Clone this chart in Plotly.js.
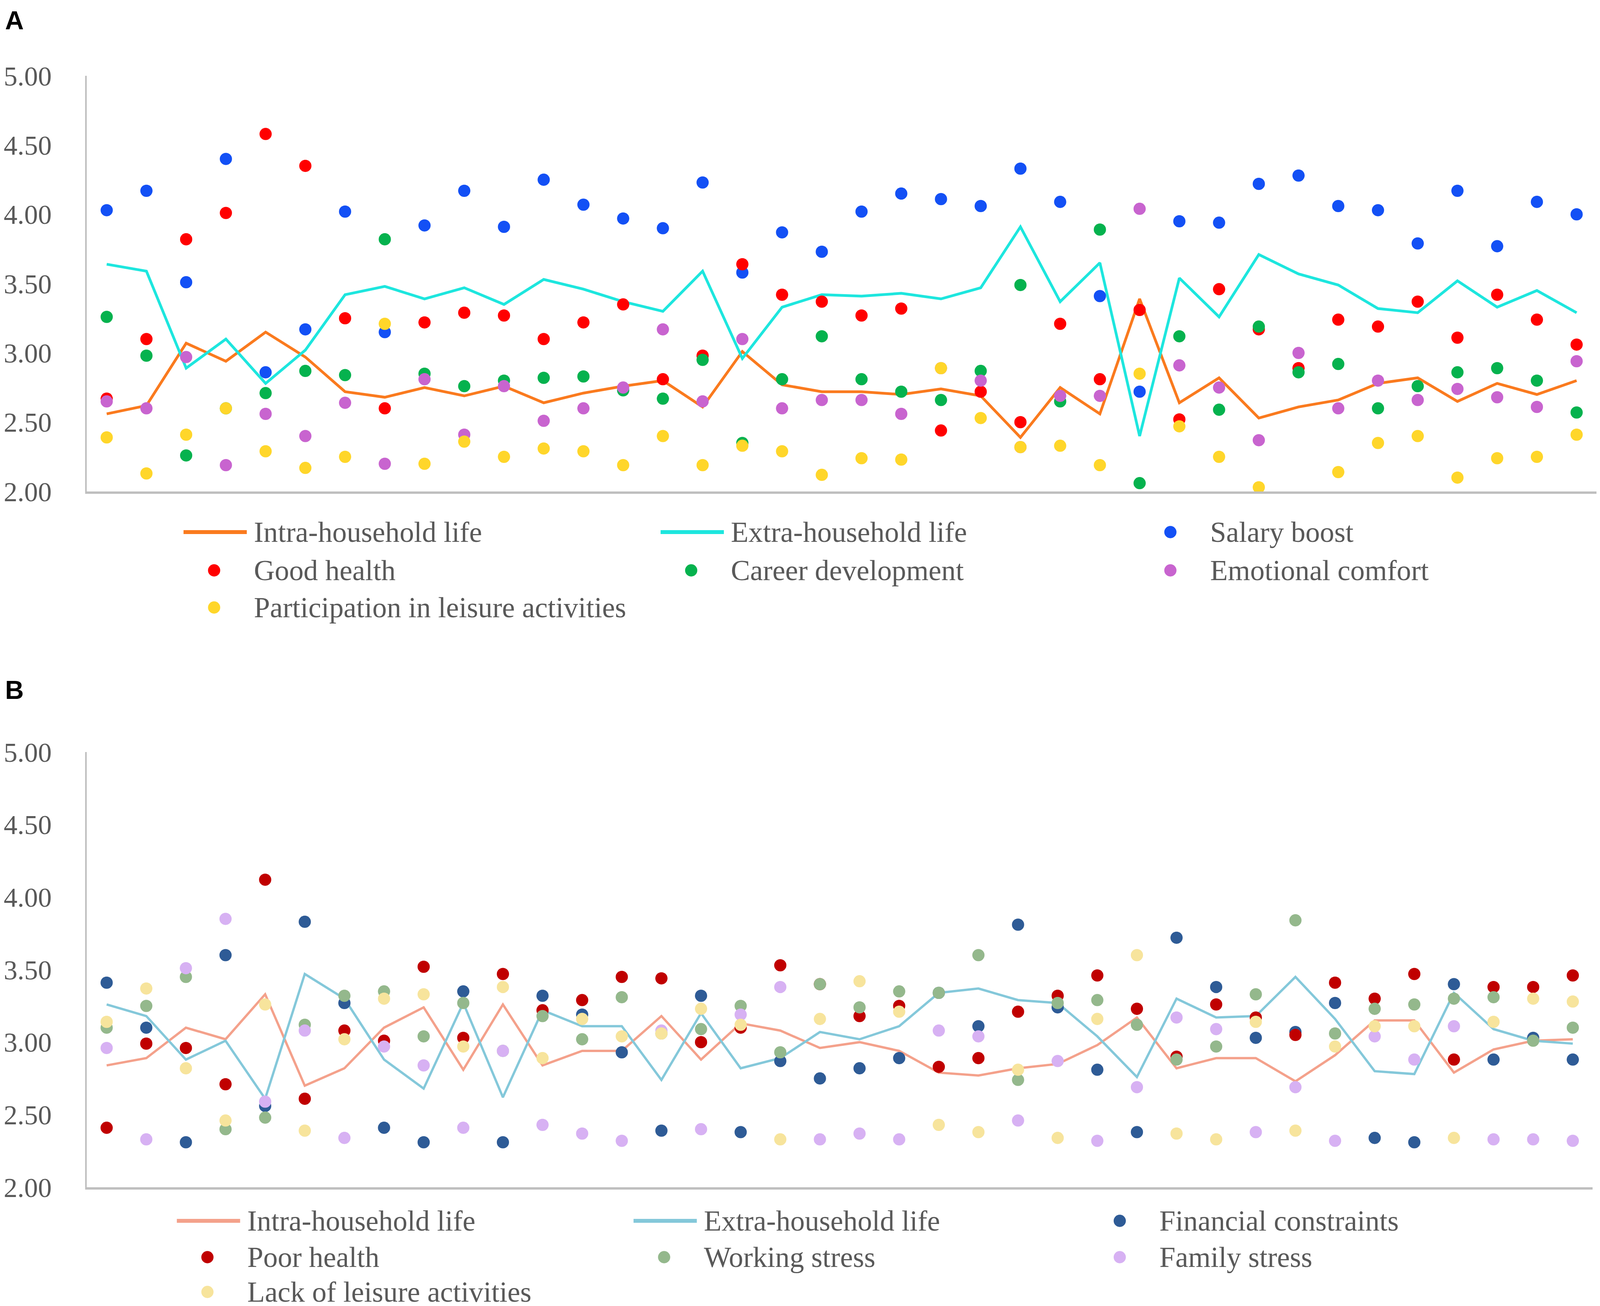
<!DOCTYPE html>
<html>
<head>
<meta charset="utf-8">
<script src="https://cdn.plot.ly/plotly-3.0.1.min.js"></script>
<style>html,body{margin:0;padding:0;background:#ffffff;overflow:hidden;}#chart{width:100vw;height:100vh;}</style>
</head>
<body>
<div id="chart"></div>
<script>
// ---------- DATA ----------
const cities = [1,2,3,4,5,6,7,8,9,10,11,12,13,14,15,16,17,18,19,20,21,22,23,24,25,26,27,28,29,30,31,32,33,34,35,36,37,38];

// Panel A
const namesA = ['Intra-household life','Extra-household life','Salary boost','Good health','Career development','Emotional comfort','Participation in leisure activities'];
const intraA = [2.56,2.62,3.07,2.94,3.15,2.97,2.72,2.68,2.75,2.69,2.76,2.64,2.71,2.76,2.80,2.61,3.01,2.77,2.72,2.72,2.70,2.74,2.69,2.39,2.75,2.56,3.39,2.64,2.82,2.53,2.61,2.66,2.78,2.82,2.65,2.78,2.70,2.80];
const extraA = [3.64,3.59,2.89,3.10,2.78,3.02,3.42,3.48,3.39,3.47,3.35,3.53,3.46,3.37,3.30,3.59,2.96,3.33,3.42,3.41,3.43,3.39,3.47,3.91,3.37,3.65,2.40,3.54,3.26,3.71,3.57,3.49,3.32,3.29,3.52,3.33,3.45,3.29];
const salaryA = [4.03,4.17,3.51,4.40,2.86,3.17,4.02,3.15,3.92,4.17,3.91,4.25,4.07,3.97,3.90,4.23,3.58,3.87,3.73,4.02,4.15,4.11,4.06,4.33,4.09,3.41,2.72,3.95,3.94,4.22,4.28,4.06,4.03,3.79,4.17,3.77,4.09,4.00];
const healthA = [2.67,3.10,3.82,4.01,4.58,4.35,3.25,2.60,3.22,3.29,3.27,3.10,3.22,3.35,2.81,2.98,3.64,3.42,3.37,3.27,3.32,2.44,2.72,2.50,3.21,2.81,3.31,2.52,3.46,3.17,2.89,3.24,3.19,3.37,3.11,3.42,3.24,3.06];
const careerA = [3.26,2.98,2.26,2.60,2.71,2.87,2.84,3.82,2.85,2.76,2.80,2.82,2.83,2.73,2.67,2.95,2.35,2.81,3.12,2.81,2.72,2.66,2.87,3.49,2.65,3.89,2.06,3.12,2.59,3.19,2.86,2.92,2.60,2.76,2.86,2.89,2.80,2.57];
const emotionalA = [2.65,2.60,2.97,2.19,2.56,2.40,2.64,2.20,2.81,2.41,2.76,2.51,2.60,2.75,3.17,2.65,3.10,2.60,2.66,2.66,2.56,2.89,2.80,2.32,2.69,2.69,4.04,2.91,2.75,2.37,3.00,2.60,2.80,2.66,2.74,2.68,2.61,2.94];
const leisureA = [2.39,2.13,2.41,2.60,2.29,2.17,2.25,3.21,2.20,2.36,2.25,2.31,2.29,2.19,2.40,2.19,2.33,2.29,2.12,2.24,2.23,2.89,2.53,2.32,2.33,2.19,2.85,2.47,2.25,2.03,null,2.14,2.35,2.40,2.10,2.24,2.25,2.41];

// Panel B
const namesB = ['Intra-household life','Extra-household life','Financial constraints','Poor health','Working stress','Family stress','Lack of leisure activities'];
const intraB = [2.84,2.89,3.10,3.02,3.33,2.70,2.82,3.10,3.24,2.81,3.26,2.84,2.94,2.94,3.18,2.88,3.13,3.08,2.96,3.00,2.94,2.79,2.77,2.82,2.85,2.98,3.17,2.82,2.89,2.89,2.73,2.91,3.15,3.15,2.79,2.95,3.01,3.02];
const extraB = [3.26,3.18,2.88,3.01,2.61,3.47,3.30,2.88,2.68,3.27,2.62,3.22,3.11,3.11,2.74,3.20,2.82,2.89,3.07,3.02,3.11,3.34,3.37,3.29,3.27,3.04,2.76,3.30,3.17,3.18,3.45,3.16,2.80,2.78,3.34,3.09,3.01,2.99];
const financialB = [3.41,3.10,2.31,3.60,2.56,3.83,3.27,2.41,2.31,3.35,2.31,3.32,3.19,2.93,2.39,3.32,2.38,2.87,2.75,2.82,2.89,3.34,3.11,3.81,3.24,2.81,2.38,3.72,3.38,3.03,3.07,3.27,2.34,2.31,3.40,2.88,3.03,2.88];
const poorHealthB = [2.41,2.99,2.96,2.71,4.12,2.61,3.08,3.01,3.52,3.03,3.47,3.22,3.29,3.45,3.44,3.00,3.10,3.53,3.40,3.18,3.25,2.83,2.89,3.21,3.32,3.46,3.23,2.90,3.26,3.17,3.05,3.41,3.30,3.47,2.88,3.38,3.38,3.46];
const workingB = [3.10,3.25,3.45,2.40,2.48,3.12,3.32,3.35,3.04,3.27,2.94,3.18,3.02,3.31,3.06,3.09,3.25,2.93,3.40,3.24,3.35,3.34,3.60,2.74,3.27,3.29,3.12,2.88,2.97,3.33,3.84,3.06,3.23,3.26,3.30,3.31,3.01,3.10];
const familyB = [2.96,2.33,3.51,3.85,2.59,3.08,2.34,2.97,2.84,2.41,2.94,2.43,2.37,2.32,3.08,2.40,3.19,3.38,2.33,2.37,2.33,3.08,3.04,2.46,2.87,2.32,2.69,3.17,3.09,2.38,2.69,2.32,3.04,2.88,3.11,2.33,2.33,2.32];
const leisureB = [3.14,3.37,2.82,2.46,3.26,2.39,3.02,3.30,3.33,2.97,3.38,2.89,3.16,3.04,3.06,3.23,3.12,2.33,3.16,3.42,3.21,2.43,2.38,2.81,2.34,3.16,3.60,2.37,2.33,3.14,2.39,2.97,3.11,3.11,2.34,3.14,3.30,3.28];

const yTickVals = [2.00,2.50,3.00,3.50,4.00,4.50,5.00];

// ---------- STYLE ----------
const RW = 4551, RH = 3343;                 // reference frame
const W = window.innerWidth || RW;
const H = window.innerHeight || RH;
const s = W / RW;                            // horizontal scale
const fs = Math.min(1, (s + H / RH) / 2 - 0.03); // font / marker scale
const px = v => v / RW;
const py = v => 1 - v / RH;
const colorsA = ['#FA7A1E','#1DE6DE','#1350F5','#FF0000','#05B24E','#C864CF','#FFD62A'];
const colorsB = ['#F4A18B','#84C8DA','#2E5B96','#C00000','#94B88C','#D7B1F3','#F7E49C'];
const kinds = ['line','line','dot','dot','dot','dot','dot'];
const serif = 'Liberation Serif, Times New Roman, serif';
const textGrey = '#595959';

const seriesA = [intraA, extraA, salaryA, healthA, careerA, emotionalA, leisureA];
const seriesB = [intraB, extraB, financialB, poorHealthB, workingB, familyB, leisureB];

const traces = [];
function addTraces(series, names, colors, xa, ya, lw) {
  series.forEach((vals, k) => {
    if (kinds[k] === 'line') {
      traces.push({type:'scatter', mode:'lines', x:cities, y:vals, name:names[k], xaxis:xa, yaxis:ya,
        line:{color:colors[k], width:lw}, showlegend:false, hoverinfo:'skip'});
    } else {
      traces.push({type:'scatter', mode:'markers', x:cities, y:vals, name:names[k], xaxis:xa, yaxis:ya,
        marker:{color:colors[k], size:34*fs, line:{width:0}}, showlegend:false, hoverinfo:'skip', cliponaxis:false});
    }
  });
}
addTraces(seriesA, namesA, colorsA, 'x', 'y', 7);
addTraces(seriesB, namesB, colorsB, 'x2', 'y2', 6);

const shapes = [];
const annotations = [];
function addLegend(names, colors, textX, rowY, lineW) {
  names.forEach((nm, k) => {
    const c = k % 3, r = Math.floor(k / 3);
    const tx = textX[c], ty = rowY[r];
    if (kinds[k] === 'line') {
      shapes.push({type:'line', xref:'paper', yref:'paper', x0:px(tx-198), x1:px(tx-18), y0:py(ty), y1:py(ty),
        line:{color:colors[k], width:lineW}});
    } else {
      const rr = 17*fs;
      shapes.push({type:'circle', xref:'paper', yref:'paper', xsizemode:'pixel', ysizemode:'pixel',
        xanchor:px(tx-111), yanchor:py(ty), x0:-rr, x1:rr, y0:-rr, y1:rr,
        fillcolor:colors[k], line:{width:0}});
    }
    annotations.push({xref:'paper', yref:'paper', x:px(tx), y:py(ty), xanchor:'left', yanchor:'middle',
      text:nm, showarrow:false, font:{family:serif, size:82*s, color:textGrey}});
  });
}
addLegend(namesA, colorsA, [720, 2077, 3440], [1362, 1460, 1555], 10);
addLegend(namesB, colorsB, [701, 2000, 3296], [3125, 3218, 3307], 10);

annotations.push({xref:'paper', yref:'paper', x:px(12), y:py(52), xanchor:'left', yanchor:'middle',
  text:'A', showarrow:false, font:{family:'Liberation Sans, Arial, sans-serif', size:72*fs, color:'#000000', weight:700}});
annotations.push({xref:'paper', yref:'paper', x:px(12), y:py(1766), xanchor:'left', yanchor:'middle',
  text:'B', showarrow:false, font:{family:'Liberation Sans, Arial, sans-serif', size:72*fs, color:'#000000', weight:700}});

// tick labels end ~97 reference px left of the axis line; transparent ticks give that gap
function yAxis(domain, anchor) {
  return {domain:domain, anchor:anchor, range:[2,5], tickmode:'array', tickvals:yTickVals, tickformat:'.2f',
    ticks:'outside', ticklen:Math.round(80*s), tickcolor:'rgba(0,0,0,0)', tickwidth:1,
    showgrid:false, zeroline:false, showline:true, linecolor:'#BFBFBF', linewidth:4,
    tickfont:{family:serif, size:78*s, color:textGrey}, automargin:false, fixedrange:true};
}
function xAxis(domain, anchor) {
  return {domain:domain, anchor:anchor, range:[0.5, 38.5], showticklabels:false, ticks:'', showgrid:false,
    zeroline:false, showline:true, linecolor:'#BFBFBF', linewidth:6, automargin:false, fixedrange:true};
}

const layout = {
  width:W, height:H, margin:{l:0, r:0, t:0, b:0, pad:0},
  paper_bgcolor:'#ffffff', plot_bgcolor:'#ffffff', showlegend:false,
  xaxis: xAxis([px(247), px(4541)], 'y'),
  yaxis: yAxis([py(1258), py(194)], 'x'),
  xaxis2: xAxis([px(247), px(4530)], 'y2'),
  yaxis2: yAxis([py(3039), py(1925)], 'x2'),
  shapes: shapes,
  annotations: annotations
};

Plotly.newPlot('chart', traces, layout, {staticPlot:true, displayModeBar:false});
</script>
</body>
</html>
